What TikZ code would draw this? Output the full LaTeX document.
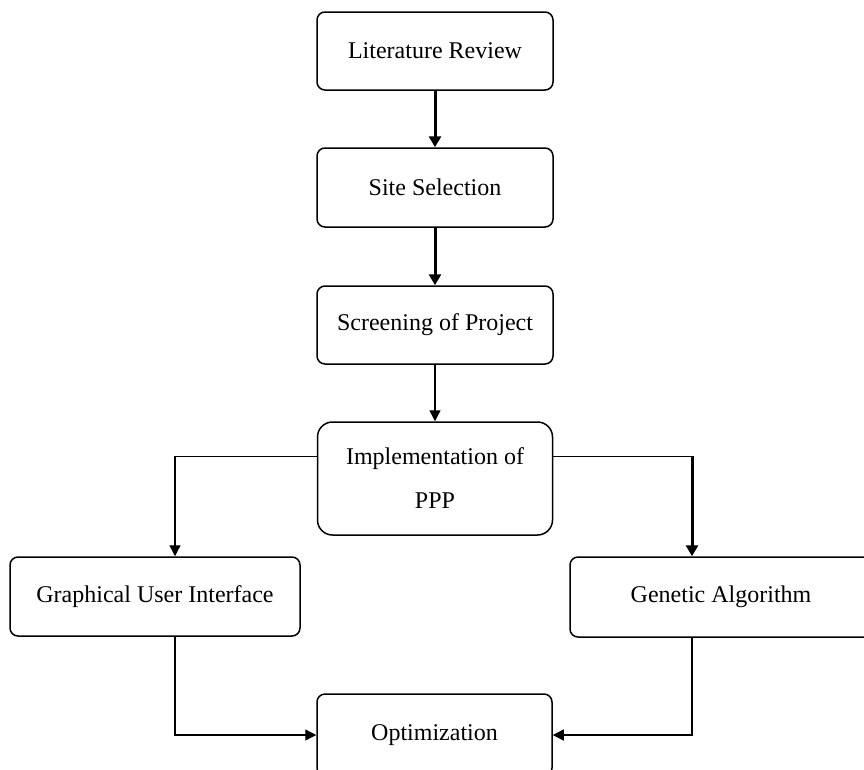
\documentclass[tikz,border=0pt]{standalone}
\usepackage{fontspec}
\setmainfont{Liberation Serif}
\usetikzlibrary{arrows.meta}
\begin{document}
\begin{tikzpicture}[x=1pt,y=-1pt,
  stepbox/.style={draw, line width=1.5pt, rounded corners=8pt, align=center,
    font=\fontsize{24}{44}\selectfont, inner sep=0pt},
  flow/.style={line width=1.4pt, -{Triangle[length=11pt,width=11pt]}},
  flowbold/.style={line width=3pt, -{Triangle[length=11pt,width=12pt]}}]
  \useasboundingbox (0,0) rectangle (864,769);
  \begin{scope}
  \clip (0,0) rectangle (864,769);
  % main column
  \node[stepbox, minimum width=236pt, minimum height=78pt] (lit) at (435,51) {Literature Review};
  \node[stepbox, minimum width=236pt, minimum height=79pt] (site) at (435,187.5) {Site Selection};
  \node[stepbox, minimum width=236pt, minimum height=78pt] (screen) at (435,325) {Screening of Project};
  \node[stepbox, rounded corners=15pt, minimum width=235pt, minimum height=113pt] (impl) at (435,478.5) {Implementation of\\PPP};
  % branches
  \node[stepbox, minimum width=290pt, minimum height=79pt] (gui) at (155,596.5) {Graphical User Interface};
  \node[stepbox, minimum width=302pt, minimum height=80pt] (ga) at (721,597) {Genetic Algorithm};
  \node[stepbox, minimum width=235pt, minimum height=82pt] (opt) at (434.5,735) {Optimization};
  \end{scope}
  % connectors
  \draw[flowbold] (lit) -- (site);
  \draw[flowbold] (site) -- (screen);
  \draw[flow] (screen) -- (impl);
  \coordinate (implL) at ([yshift=-35pt]impl.north west);
  \coordinate (implR) at ([yshift=-35pt]impl.north east);
  \coordinate (gaTurn) at ([xshift=-29pt]ga.north |- implR);
  \draw[flow] (implL) -| ([xshift=20pt]gui.north);
  \draw[line width=1.4pt] (implR) -- (gaTurn);
  \draw[flowbold] (gaTurn) -- ([xshift=-29pt]ga.north);
  \draw[flow] ([xshift=20pt]gui.south) |- (opt.west);
  \draw[flow] ([xshift=-29pt]ga.south) |- (opt.east);
\end{tikzpicture}
\end{document}
